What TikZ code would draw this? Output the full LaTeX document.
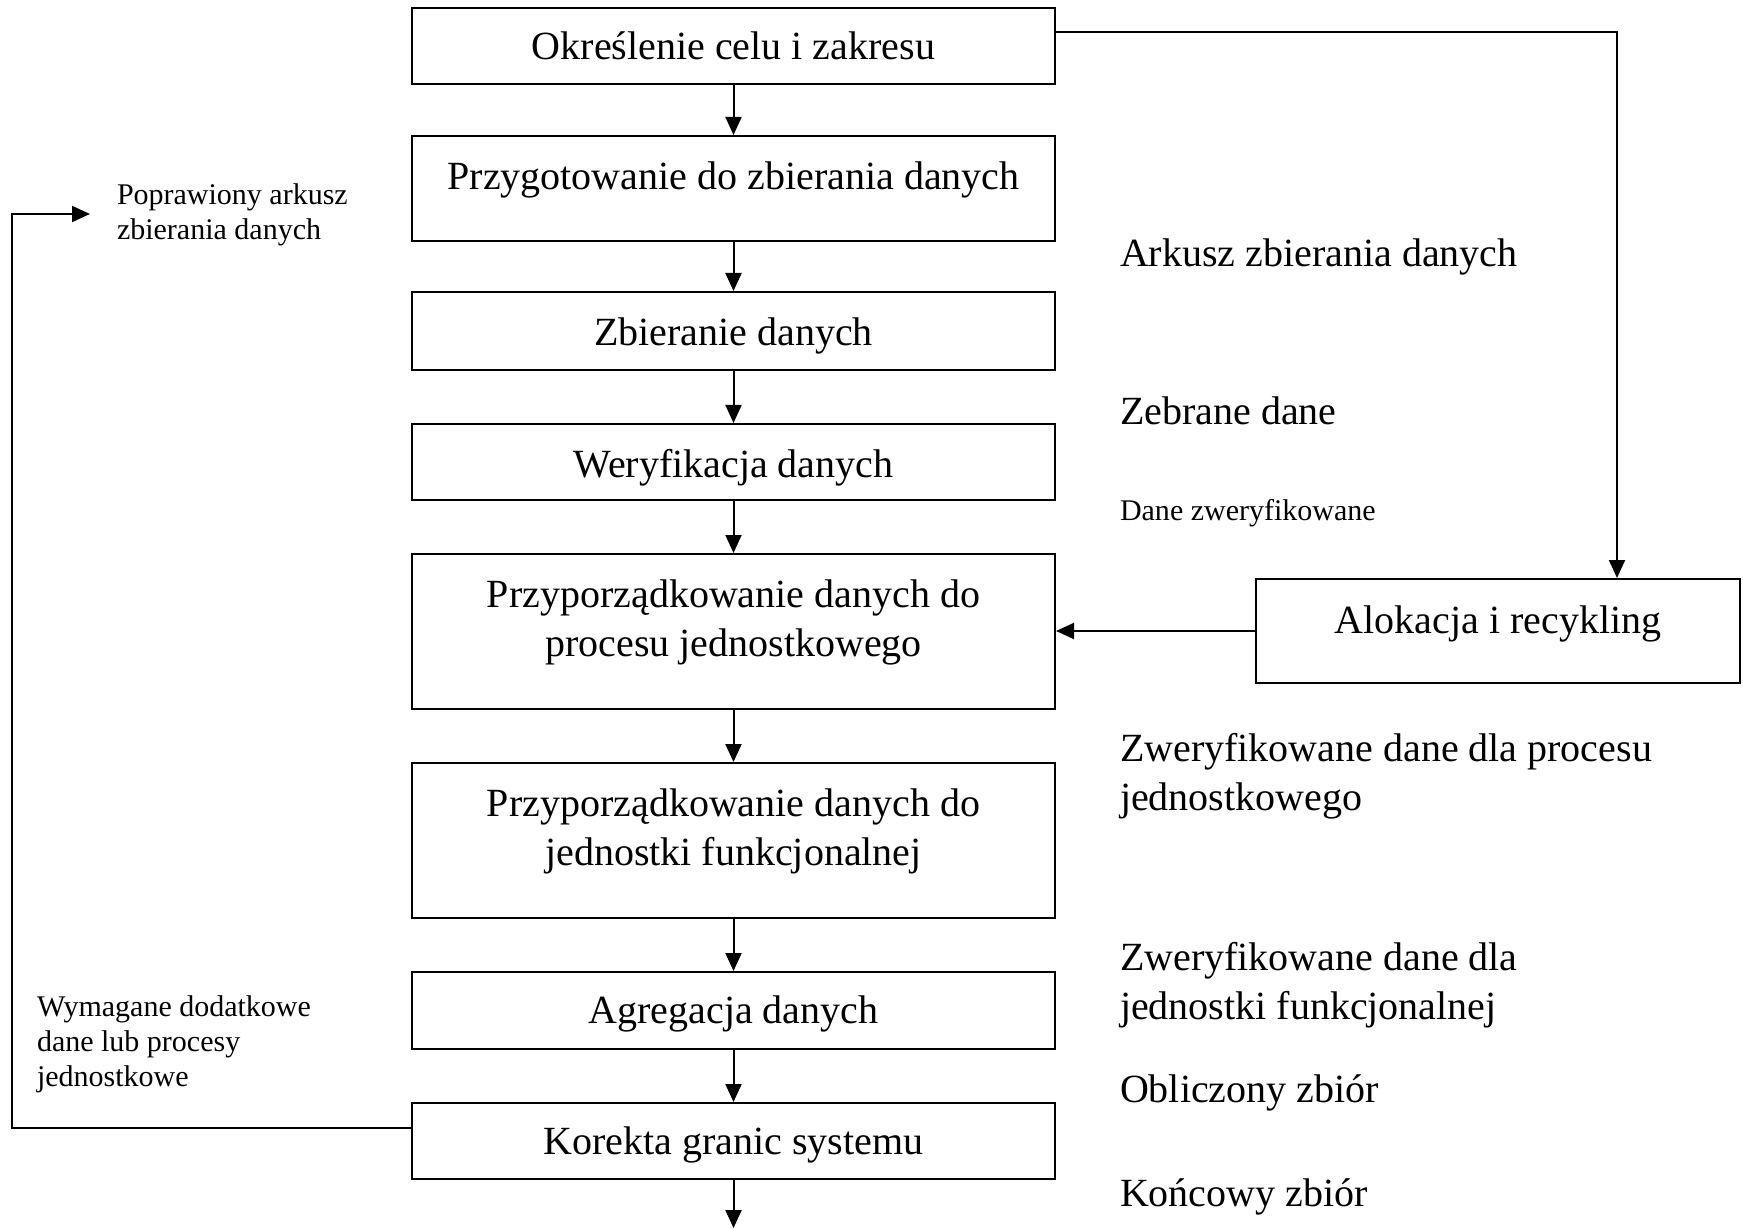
\documentclass[tikz,border=0pt]{standalone}
\usepackage{fontspec}
\setmainfont{Liberation Serif}
\usetikzlibrary{arrows.meta,calc}
\begin{document}
\begin{tikzpicture}[x=0.5pt,y=-0.5pt,
  line width=1pt,
  >={Triangle[length=9pt,width=8pt]},
  stepbox/.style={draw, inner sep=0pt, minimum width=321.5pt},
  boxtext/.style={anchor=base, align=center, font=\fontsize{20}{24.5}\selectfont, inner sep=0pt},
  biglabel/.style={anchor=base west, align=left, font=\fontsize{20}{24.5}\selectfont, inner sep=0pt},
  smalllabel/.style={anchor=base west, align=left, font=\fontsize{15}{17.5}\selectfont, inner sep=0pt}]
  \useasboundingbox (0,0) rectangle (1743,1229);

  % process boxes
  \node[stepbox, minimum height=38pt]   (b1) at (733.5,46) {};
  \node[stepbox, minimum height=52.5pt] (b2) at (733.5,188.5) {};
  \node[stepbox, minimum height=39pt]   (b3) at (733.5,331) {};
  \node[stepbox, minimum height=38pt]   (b4) at (733.5,462) {};
  \node[stepbox, minimum height=77.5pt] (b5) at (733.5,631.5) {};
  \node[stepbox, minimum height=77.5pt] (b6) at (733.5,840.5) {};
  \node[stepbox, minimum height=38.5pt] (b7) at (733.5,1010.5) {};
  \node[stepbox, minimum height=38pt]   (b8) at (733.5,1141) {};
  \node[draw, inner sep=0pt, minimum width=242pt, minimum height=52pt] (al) at (1498,631) {};

  % box captions (multi-line nodes sit on the baseline of their last line)
  \node[boxtext] (t1) at (733.5,60) {Określenie celu i zakresu};
  \node[boxtext] (t2) at (733.5,190) {Przygotowanie do zbierania danych};
  \node[boxtext] (t3) at (733.5,346) {Zbieranie danych};
  \node[boxtext] (t4) at (733.5,477) {Weryfikacja danych};
  \node[boxtext] (t5) at (733.5,656) {Przyporządkowanie danych do\\procesu jednostkowego};
  \node[boxtext] (t6) at (733.5,865) {Przyporządkowanie danych do\\jednostki funkcjonalnej};
  \node[boxtext] (t7) at (733.5,1023) {Agregacja danych};
  \node[boxtext] (t8) at (733.5,1154) {Korekta granic systemu};
  \node[boxtext] (ta) at (1498,633) {Alokacja i recykling};

  % data labels on the right
  \node[biglabel] (l1) at (1119,267) {Arkusz zbierania danych};
  \node[biglabel] (l2) at (1119,424) {Zebrane dane};
  \node[smalllabel] (l3) at (1119,520) {Dane zweryfikowane};
  \node[biglabel] (l4) at (1119,810) {Zweryfikowane dane dla procesu\\jednostkowego};
  \node[biglabel] (l5) at (1119,1019) {Zweryfikowane dane dla\\jednostki funkcjonalnej};
  \node[biglabel] (l6) at (1119,1102) {Obliczony zbiór};
  \node[biglabel] (l7) at (1119,1206) {Końcowy zbiór};

  % feedback labels on the left
  \node[smalllabel] (l8) at (116,240) {Poprawiony arkusz\\zbierania danych};
  \node[smalllabel] (l9) at (36,1086) {Wymagane dodatkowe\\dane lub procesy\\jednostkowe};

  % main flow
  \draw[->] (b1) -- (b2);
  \draw[->] (b2) -- (b3);
  \draw[->] (b3) -- (b4);
  \draw[->] (b4) -- (b5);
  \draw[->] (b5) -- (b6);
  \draw[->] (b6) -- (b7);
  \draw[->] (b7) -- (b8);
  \coordinate (out) at (733.5,1228);
  \draw[->] (b8) -- (out);

  % branch to allocation and back
  \coordinate (rc) at (1617,32);
  \draw[->] ($(b1.east)+(0,-14)$) -- (rc) -- (rc |- al.north);
  \draw[->] (al.west) -- (b5.east |- al.west);

  % feedback loop
  \coordinate (fb) at (90,214);
  \draw[->] ($(b8.west)+(0,-13)$) -- (12,1128) -- (12,214) -- (fb);
\end{tikzpicture}
\end{document}
